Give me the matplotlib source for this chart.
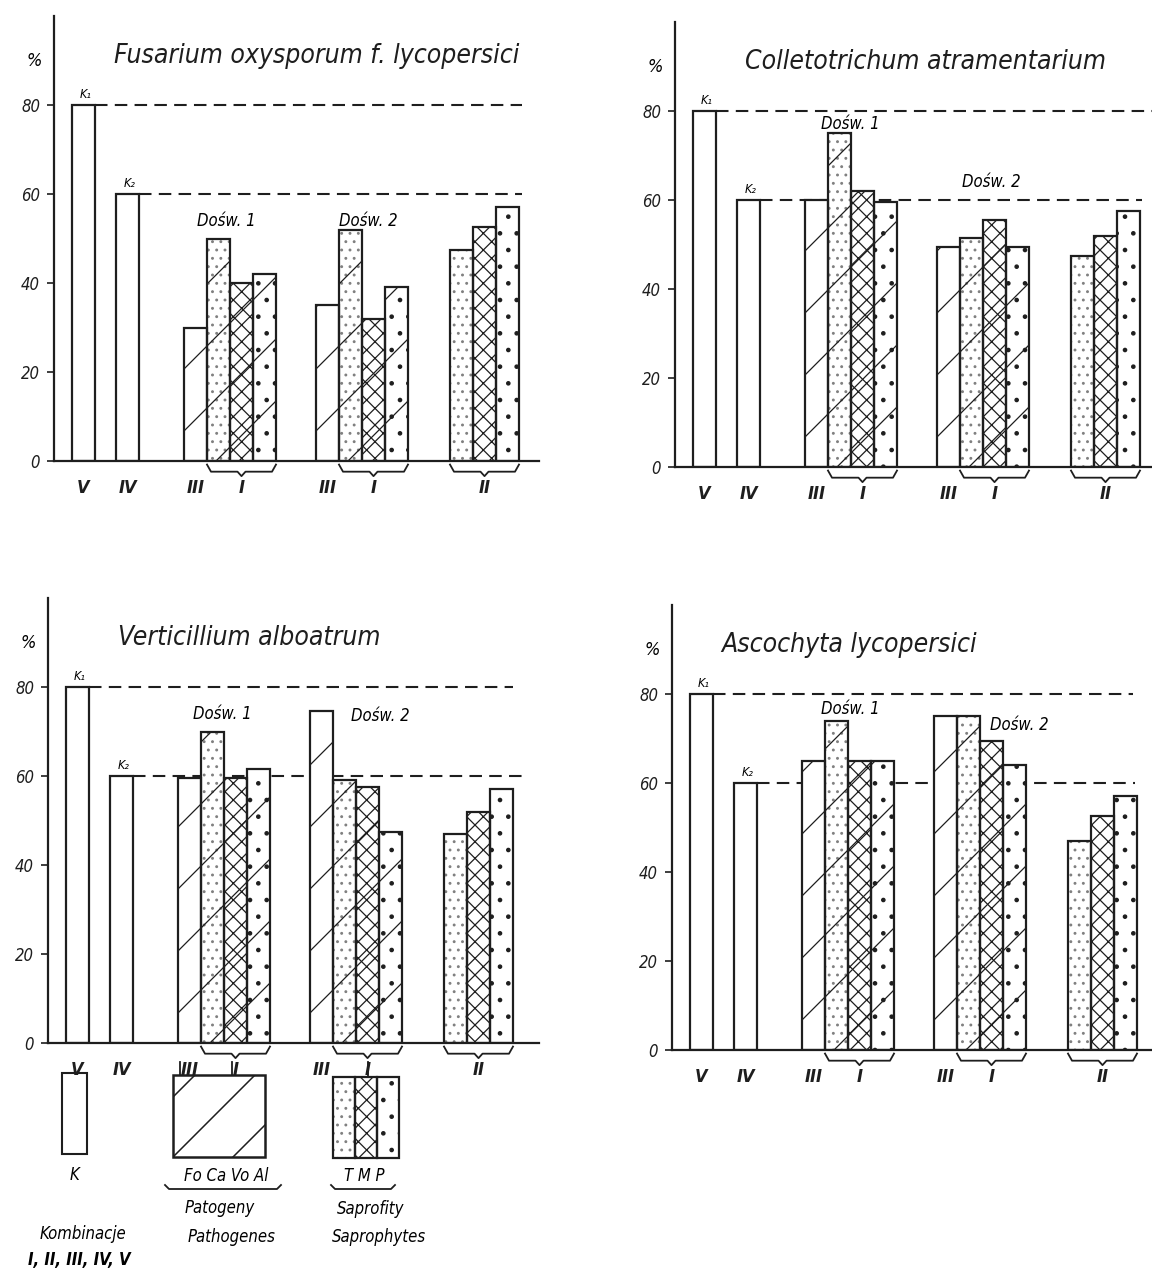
import numpy as np
import matplotlib
matplotlib.use('Agg')
import matplotlib.pyplot as plt
from matplotlib.patches import Rectangle
from matplotlib.collections import LineCollection

plt.rcParams['font.family'] = ['DejaVu Sans']
plt.rcParams['font.style'] = 'italic'
plt.rcParams['font.stretch'] = 'condensed'
plt.rcParams['hatch.linewidth'] = 0.9

INK = '#1e1e1e'

# ---- data (%) ----
titles = ['Fusarium oxysporum f. lycopersici', 'Colletotrichum atramentarium',
          'Verticillium alboatrum', 'Ascochyta lycopersici']
k1 = [80, 80, 80, 80]          # kombinacja V (K1)
k2 = [60, 60, 60, 60]          # kombinacja IV (K2)
# Dośw. 1 / Dośw. 2: III (pathogen alone), then I with T, M, P
dosw1 = [[30, 50, 40, 42], [60, 75, 62, 59.5], [59.5, 70, 59.5, 61.5], [65, 74, 65, 65]]
dosw2 = [[35, 52, 32, 39], [49.5, 51.5, 55.5, 49.5], [74.5, 59, 57.5, 47.5], [75, 75, 69.5, 64]]
komb2 = [[47.5, 52.5, 57], [47.5, 52, 57.5], [47, 52, 57], [47, 52.5, 57]]   # II: T, M, P
roman = ['V', 'IV', 'III', 'I', 'III', 'I', 'II']

# ---- layout (pixels) ----
W, H = 1152, 1271
PX = 4.45                      # pixels per percent
frames = [(54, 461, 485), (675, 467, 477), (48, 1043, 491), (672, 1050, 480)]
BW = 23
slot_V, slot_IV, slot_D1, slot_D2, slot_II = 18, 62, 130, 262, 396
title_x = [60, 70, 70, 49]
d1_pos = [(172, 54), (175, 77), (174, 74), (178, 76.7)]
d2_pos = [(314, 54), (316, 64), (332, 73.5), (347, 73)]
line_end = [(468, 468), (477, 467), (465, 474), (461, 463)]

sap_hatch = ['..', 'xx', '.']
sap_col = ['#808080', INK, INK]

fig = plt.figure(figsize=(W / 100, H / 100), dpi=100)


def hatched_bars(ax, lefts, heights, hatches, cols, width=BW):
    ax.bar(lefts, heights, width=width, align='edge', color='white', lw=0, zorder=2)
    for x, h, ht, c in zip(lefts, heights, hatches, cols):
        if ht:
            ax.bar([x], [h], width=width, align='edge', fill=False,
                   edgecolor=c, hatch=ht, lw=0, zorder=2.2)
    return ax.bar(lefts, heights, width=width, align='edge', fill=False,
                  edgecolor=INK, lw=1.6, zorder=2.5)


def pathogen_lines(ax, bars, x0):
    xs = np.array([x0 - 10, x0 + 4 * BW + 10])
    segs = [np.column_stack([xs, (30 + k * 62 + xs - x0) / PX]) for k in range(-2, 9)]
    for p in bars:
        lc = LineCollection(segs, colors=INK, linewidths=0.9, zorder=3)
        ax.add_collection(lc)
        lc.set_clip_path(p)


def bracket(ax, x0, x1, d=2.4):
    xm = (x0 + x1) / 2
    ax.plot([x0, x0 + 4, xm - 4, xm, xm + 4, x1 - 4, x1],
            [-0.8, -d, -d, -d - 1.0, -d, -d, -0.8],
            color=INK, lw=1.3, clip_on=False)


for i in range(4):
    axx, y0, ext = frames[i]
    ax = fig.add_axes([axx / W, 1 - y0 / H, ext / W, 100 * PX / H])
    ax.set_xlim(0, ext)
    ax.set_ylim(0, 100)
    ax.patch.set_alpha(0)
    for s in ['top', 'right']:
        ax.spines[s].set_visible(False)
    for s in ['left', 'bottom']:
        ax.spines[s].set_linewidth(1.6)
        ax.spines[s].set_color(INK)

    # control bars
    hatched_bars(ax, [slot_V, slot_IV], [k1[i], k2[i]], [None, None], [INK, INK])
    ax.hlines(k1[i], slot_V + BW, line_end[i][0], colors=INK, lw=1.5,
              linestyles=(0, (6, 3.5)), zorder=1)
    ax.hlines(k2[i], slot_IV + BW, line_end[i][1], colors=INK, lw=1.5,
              linestyles=(0, (6, 3.5)), zorder=1)
    ax.text(slot_V + BW / 2 + 2, k1[i] + 1, 'K₁', fontsize=9, ha='center', va='bottom')
    ax.text(slot_IV + BW / 2 + 2, k2[i] + 1, 'K₂', fontsize=9, ha='center', va='bottom')

    # experiments
    for slot, vals in [(slot_D1, dosw1[i]), (slot_D2, dosw2[i])]:
        lefts = slot + BW * np.arange(4)
        bars = hatched_bars(ax, lefts, vals, [None] + sap_hatch, [INK] + sap_col)
        pathogen_lines(ax, bars, slot)
        bracket(ax, slot + BW, slot + 4 * BW)
    lefts = slot_II + BW * np.arange(3)
    hatched_bars(ax, lefts, komb2[i], sap_hatch, sap_col)
    bracket(ax, slot_II, slot_II + 3 * BW)

    ax.text(*d1_pos[i], 'Dośw. 1', fontsize=12, ha='center', va='center')
    ax.text(*d2_pos[i], 'Dośw. 2', fontsize=12, ha='center', va='center')
    ax.text(title_x[i], 91, titles[i], fontsize=19, ha='left', va='center', color=INK)
    ax.text(-20, 90, '%', fontsize=13, ha='center', va='center')

    centers = [slot_V + BW / 2, slot_IV + BW / 2, slot_D1 + BW / 2, slot_D1 + 2.5 * BW,
               slot_D2 + BW / 2, slot_D2 + 2.5 * BW, slot_II + 1.5 * BW]
    ax.set_xticks(centers, roman, fontsize=13, fontweight='bold')
    ax.tick_params(axis='x', length=0, pad=13, colors=INK)
    ax.set_yticks([0, 20, 40, 60, 80])
    ax.tick_params(axis='y', direction='out', length=5, width=1.2, pad=5,
                   labelsize=12, colors=INK)

# ---- legend (figure pixel coordinates, y measured from the top) ----
lg = fig.add_axes([0, 0, 1, 1])
lg.set_xlim(0, W)
lg.set_ylim(0, H)
lg.axis('off')
lg.patch.set_alpha(0)


def fy(y):
    return H - y


lg.add_patch(Rectangle((62, fy(1154)), 25, 81, fill=False, ec=INK, lw=1.5))
lg.text(74, fy(1175), 'K', fontsize=12, ha='center', va='center')

sq = Rectangle((173, fy(1157)), 92, 82, fc='white', ec=INK, lw=1.8)
lg.add_patch(sq)
xs = np.array([150, 290])
segs = [np.column_stack([xs, fy(1157) + xs - (173 + k * 60)]) for k in range(-2, 3)]
lc = LineCollection(segs, colors=INK, linewidths=1.1)
lg.add_collection(lc)
lc.set_clip_path(sq)

# saprophyte key: its own small axes, one pixel per unit
sp = fig.add_axes([333 / W, fy(1158) / H, 66 / W, 81 / H])
sp.set_xlim(0, 66)
sp.set_ylim(0, 81)
sp.axis('off')
sp.patch.set_alpha(0)
hatched_bars(sp, 22 * np.arange(3), [81, 81, 81], sap_hatch, sap_col, width=22)
for b in sp.patches:
    b.set_clip_on(False)

for x, ya, yb in [(180, 1062, 1075), (232, 1062, 1075), (368, 1062, 1077)]:
    lg.plot([x, x], [fy(ya), fy(yb)], color=INK, lw=1.3)


def underline(x0, x1, y):
    lg.plot([x0, x0 + 4, x1 - 4, x1], [fy(y - 4), fy(y), fy(y), fy(y - 4)],
            color=INK, lw=1.3)


lg.text(226, fy(1176), 'Fo Ca Vo Al', fontsize=12, ha='center', va='center')
underline(165, 281, 1189)
lg.text(364, fy(1176), 'T M P', fontsize=12, ha='center', va='center')
underline(331, 395, 1189)
lg.text(220, fy(1208), 'Patogeny', fontsize=12, ha='center', va='center')
lg.text(232, fy(1237), 'Pathogenes', fontsize=12, ha='center', va='center')
lg.text(371, fy(1209), 'Saprofity', fontsize=12, ha='center', va='center')
lg.text(379, fy(1237), 'Saprophytes', fontsize=12, ha='center', va='center')
lg.text(83, fy(1234), 'Kombinacje', fontsize=12, ha='center', va='center')
lg.text(79, fy(1260), 'I, II, III, IV, V', fontsize=12, ha='center', va='center',
        fontweight='bold')

fig.savefig('out.png', dpi=100, facecolor='white')
